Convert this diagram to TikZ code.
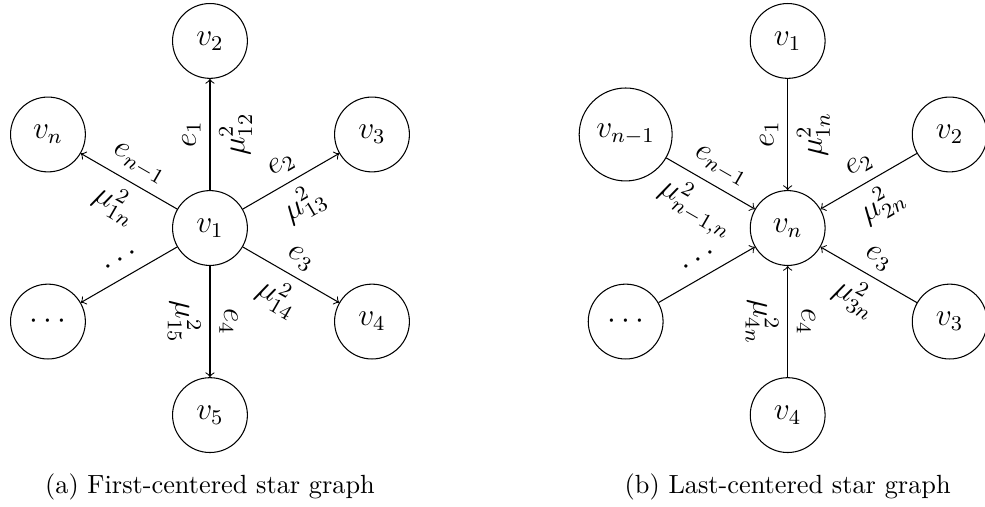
\documentclass[tikz,border=0pt]{standalone}
\usetikzlibrary{arrows}
\tikzstyle{vertex} = [circle, draw=black, minimum size=1cm, inner sep=4.5pt, font=\large]
\tikzstyle{edge} = [->]
\tikzstyle{lbl} = [sloped, font=\large]

\begin{document}
\begin{tikzpicture}[node distance=2.5cm]
\useasboundingbox (-2.806,-3.715) rectangle (10.357,3.047);

% first-centered star
\node (a1) [vertex] at (0,0) {$v_1$};
\node (a2) [vertex, above of=a1] {$v_2$};
\node (a3) [vertex] at ([shift={(30:2.5cm)}]a1) {$v_3$};
\node (a4) [vertex] at ([shift={(-30:2.5cm)}]a1) {$v_4$};
\node (a5) [vertex, below of=a1] {$v_5$};
\node (adots) [vertex] at ([shift={(210:2.5cm)}]a1) {$\cdots$};
\node (an) [vertex] at ([shift={(150:2.5cm)}]a1) {$v_n$};

\draw [edge] (a1) -- node [lbl, above] {$e_1$} node [lbl, below] {$\mu_{12}^2$} (a2);
\draw [edge] (a1) -- node [lbl, above] {$e_2$} node [lbl, below] {$\mu_{13}^2$} (a3);
\draw [edge] (a1) -- node [lbl, above] {$e_3$} node [lbl, below] {$\mu_{14}^2$} (a4);
\draw [edge] (a1) -- node [lbl, above] {$e_4$} node [lbl, below] {$\mu_{15}^2$} (a5);
\draw [edge] (a1) -- node [lbl, above] {$\cdots$} (adots);
\draw [edge] (a1) -- node [lbl, above] {$e_{n-1}$} node [lbl, below] {$\mu_{1n}^2$} (an);

\node (capa) at (0,-3.541) [anchor=base] {(a) First-centered star graph};

% last-centered star
\node (bn) [vertex] at (7.72,0) {$v_n$};
\node (b1) [vertex, above of=bn] {$v_1$};
\node (b2) [vertex] at ([shift={(30:2.5cm)}]bn) {$v_2$};
\node (b3) [vertex] at ([shift={(-30:2.5cm)}]bn) {$v_3$};
\node (b4) [vertex, below of=bn] {$v_4$};
\node (bdots) [vertex] at ([shift={(210:2.5cm)}]bn) {$\cdots$};
\node (bm) [vertex] at ([shift={(150:2.5cm)}]bn) {$v_{n-1}$};

\draw [edge, <-] (bn) -- node [lbl, above] {$e_1$} node [lbl, below] {$\mu_{1n}^2$} (b1);
\draw [edge, <-] (bn) -- node [lbl, above] {$e_2$} node [lbl, below] {$\mu_{2n}^2$} (b2);
\draw [edge, <-] (bn) -- node [lbl, above] {$e_3$} node [lbl, below] {$\mu_{3n}^2$} (b3);
\draw [edge, <-] (bn) -- node [lbl, above] {$e_4$} node [lbl, below] {$\mu_{4n}^2$} (b4);
\draw [edge, <-] (bn) -- node [lbl, above] {$\cdots$} (bdots);
\draw [edge, <-] (bn) -- node [lbl, above] {$e_{n-1}$} node [lbl, below] {$\mu_{n-1,n}^2$} (bm);

\node (capb) at (7.72,-3.541) [anchor=base] {(b) Last-centered star graph};

\end{tikzpicture}
\end{document}
